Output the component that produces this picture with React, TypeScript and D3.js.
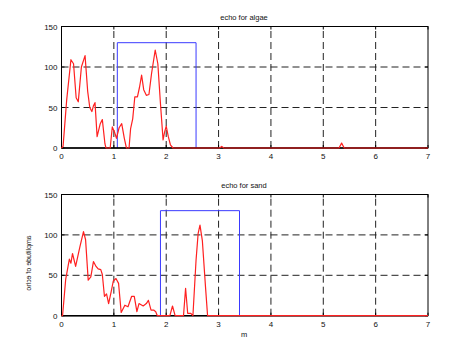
import React from "react";
import * as d3 from "d3";

const xTicks = [0, 1, 2, 3, 4, 5, 6, 7];
const yTicks = [0, 50, 100, 150];
const titles = ["echo for algae", "echo for sand"];
const xLabel = "m";
const yLabel = "amplitude of echo";

const algaeX = [0, 0.03, 0.1, 0.18, 0.23, 0.28, 0.32, 0.38, 0.45, 0.5, 0.54, 0.58, 0.61, 0.64, 0.68, 0.74, 0.78, 0.83, 0.85, 0.93, 0.97, 1.01, 1.05, 1.1, 1.15, 1.2, 1.24, 1.29, 1.32, 1.36, 1.4, 1.45, 1.49, 1.53, 1.57, 1.62, 1.67, 1.72, 1.79, 1.84, 1.89, 1.94, 1.97, 2.0, 2.04, 2.08, 2.13, 3.02, 3.06, 3.1, 5.3, 5.35, 5.4, 7];
const algaeY = [0, 2, 60, 109, 104, 62, 57, 100, 114, 70, 50, 45, 52, 56, 14, 30, 35, 5, 0, 0, 26, 20, 12, 25, 30, 12, 0, 0, 24, 36, 63, 63, 75, 90, 72, 65, 66, 92, 121, 104, 55, 10, 20, 27, 14, 4, 0, 0, 2, 0, 0, 6, 0, 0];

const sandX = [0, 0.02, 0.08, 0.15, 0.18, 0.21, 0.27, 0.35, 0.42, 0.46, 0.51, 0.56, 0.61, 0.66, 0.7, 0.75, 0.78, 0.82, 0.86, 0.9, 0.95, 0.99, 1.04, 1.09, 1.14, 1.21, 1.27, 1.34, 1.39, 1.44, 1.48, 1.56, 1.62, 1.66, 1.71, 1.76, 1.8, 1.83, 2.07, 2.12, 2.17, 2.33, 2.37, 2.41, 2.47, 2.51, 2.57, 2.61, 2.645, 2.69, 2.75, 2.79, 7];
const sandY = [0, 0, 45, 70, 65, 77, 61, 85, 104, 94, 44, 48, 67, 61, 58, 57, 51, 24, 27, 15, 30, 43, 46, 40, 4, 13, 11, 24, 24, 5, 15, 12, 15, 19, 7, 7, 5, 0, 0, 12, 0, 0, 34, 3, 3, 0, 69, 102, 112, 93, 36, 0, 0];

const algaeBox = [1.066, 2.57, 130];
const sandBox = [1.89, 3.4, 130];

const panels = [
  { title: titles[0], xs: algaeX, ys: algaeY, box: algaeBox, top: 26.5, bottom: 148 },
  { title: titles[1], xs: sandX, ys: sandY, box: sandBox, top: 194.5, bottom: 315.7 },
];

const left = 61.5;
const right = 428;
const font = "Liberation Sans, Arial, sans-serif";

function Panel({ p }: { p: typeof panels[number] }) {
  const x = d3.scaleLinear().domain([0, 7]).range([left, right]);
  const y = d3.scaleLinear().domain([0, 150]).range([p.bottom, p.top]);
  const pts: [number, number][] = p.xs.map((v, i) => [v, p.ys[i]]);
  const line = d3
    .line<[number, number]>()
    .x((d) => x(d[0]))
    .y((d) => y(d[1]));
  const [b0, b1, bh] = p.box;
  const boxPath = d3.line<[number, number]>().x((d) => x(d[0])).y((d) => y(d[1]))([
    [b0, 0],
    [b0, bh],
    [b1, bh],
    [b1, 0],
  ]);
  return (
    <g>
      <rect x={left} y={p.top} width={right - left} height={p.bottom - p.top} fill="#fff" />
      {xTicks.slice(1, -1).map((t) => (
        <line key={"gx" + t} x1={x(t)} x2={x(t)} y1={p.bottom} y2={p.top} stroke="#222" strokeWidth={1} strokeDasharray="7,4" />
      ))}
      {yTicks.slice(1, -1).map((t) => (
        <line key={"gy" + t} x1={left} x2={right} y1={y(t)} y2={y(t)} stroke="#222" strokeWidth={1} strokeDasharray="7,4" />
      ))}
      <path d={boxPath || ""} fill="none" stroke="#3a3aff" strokeWidth={1} />
      <rect x={left} y={p.top} width={right - left} height={p.bottom - p.top} fill="none" stroke="#000" strokeWidth={1} />
      <line x1={left} x2={right} y1={p.bottom} y2={p.bottom} stroke="#000" strokeWidth={1.5} />
      {xTicks.map((t) => (
        <g key={"tx" + t}>
          <line x1={x(t)} x2={x(t)} y1={p.bottom} y2={p.bottom - 3} stroke="#000" />
          <line x1={x(t)} x2={x(t)} y1={p.top} y2={p.top + 3} stroke="#000" />
          <text x={x(t)} y={p.bottom + 11} fontSize={8} textAnchor="middle" fontFamily={font} fill="#111">
            {t}
          </text>
        </g>
      ))}
      {yTicks.map((t) => (
        <g key={"ty" + t}>
          <line x1={left} x2={left + 3} y1={y(t)} y2={y(t)} stroke="#000" />
          <line x1={right} x2={right - 3} y1={y(t)} y2={y(t)} stroke="#000" />
          <text x={left - 4} y={y(t) + 3} fontSize={8} textAnchor="end" fontFamily={font} fill="#111">
            {t}
          </text>
        </g>
      ))}
      <path d={line(pts) || ""} fill="none" stroke="#ff2020" strokeWidth={1.2} strokeLinejoin="round" />
      <text x={244} y={p.top - 7} fontSize={7.5} textAnchor="middle" fontFamily={font} fill="#111">
        {p.title}
      </text>
    </g>
  );
}

export default function App() {
  return (
    <svg width={474} height={356} style={{ position: "absolute", left: 0, top: 0, background: "#fff" }}>
      <rect width={474} height={356} fill="#fff" />
      {panels.map((p, i) => (
        <Panel key={i} p={p} />
      ))}
      <text x={244} y={337} fontSize={7.5} textAnchor="middle" fontFamily={font} fill="#111">
        {xLabel}
      </text>
      <text transform="translate(31,263) rotate(90) scale(1,-1)" fontSize={7} textAnchor="middle" fontFamily={font} fill="#222">
        {yLabel}
      </text>
    </svg>
  );
}
